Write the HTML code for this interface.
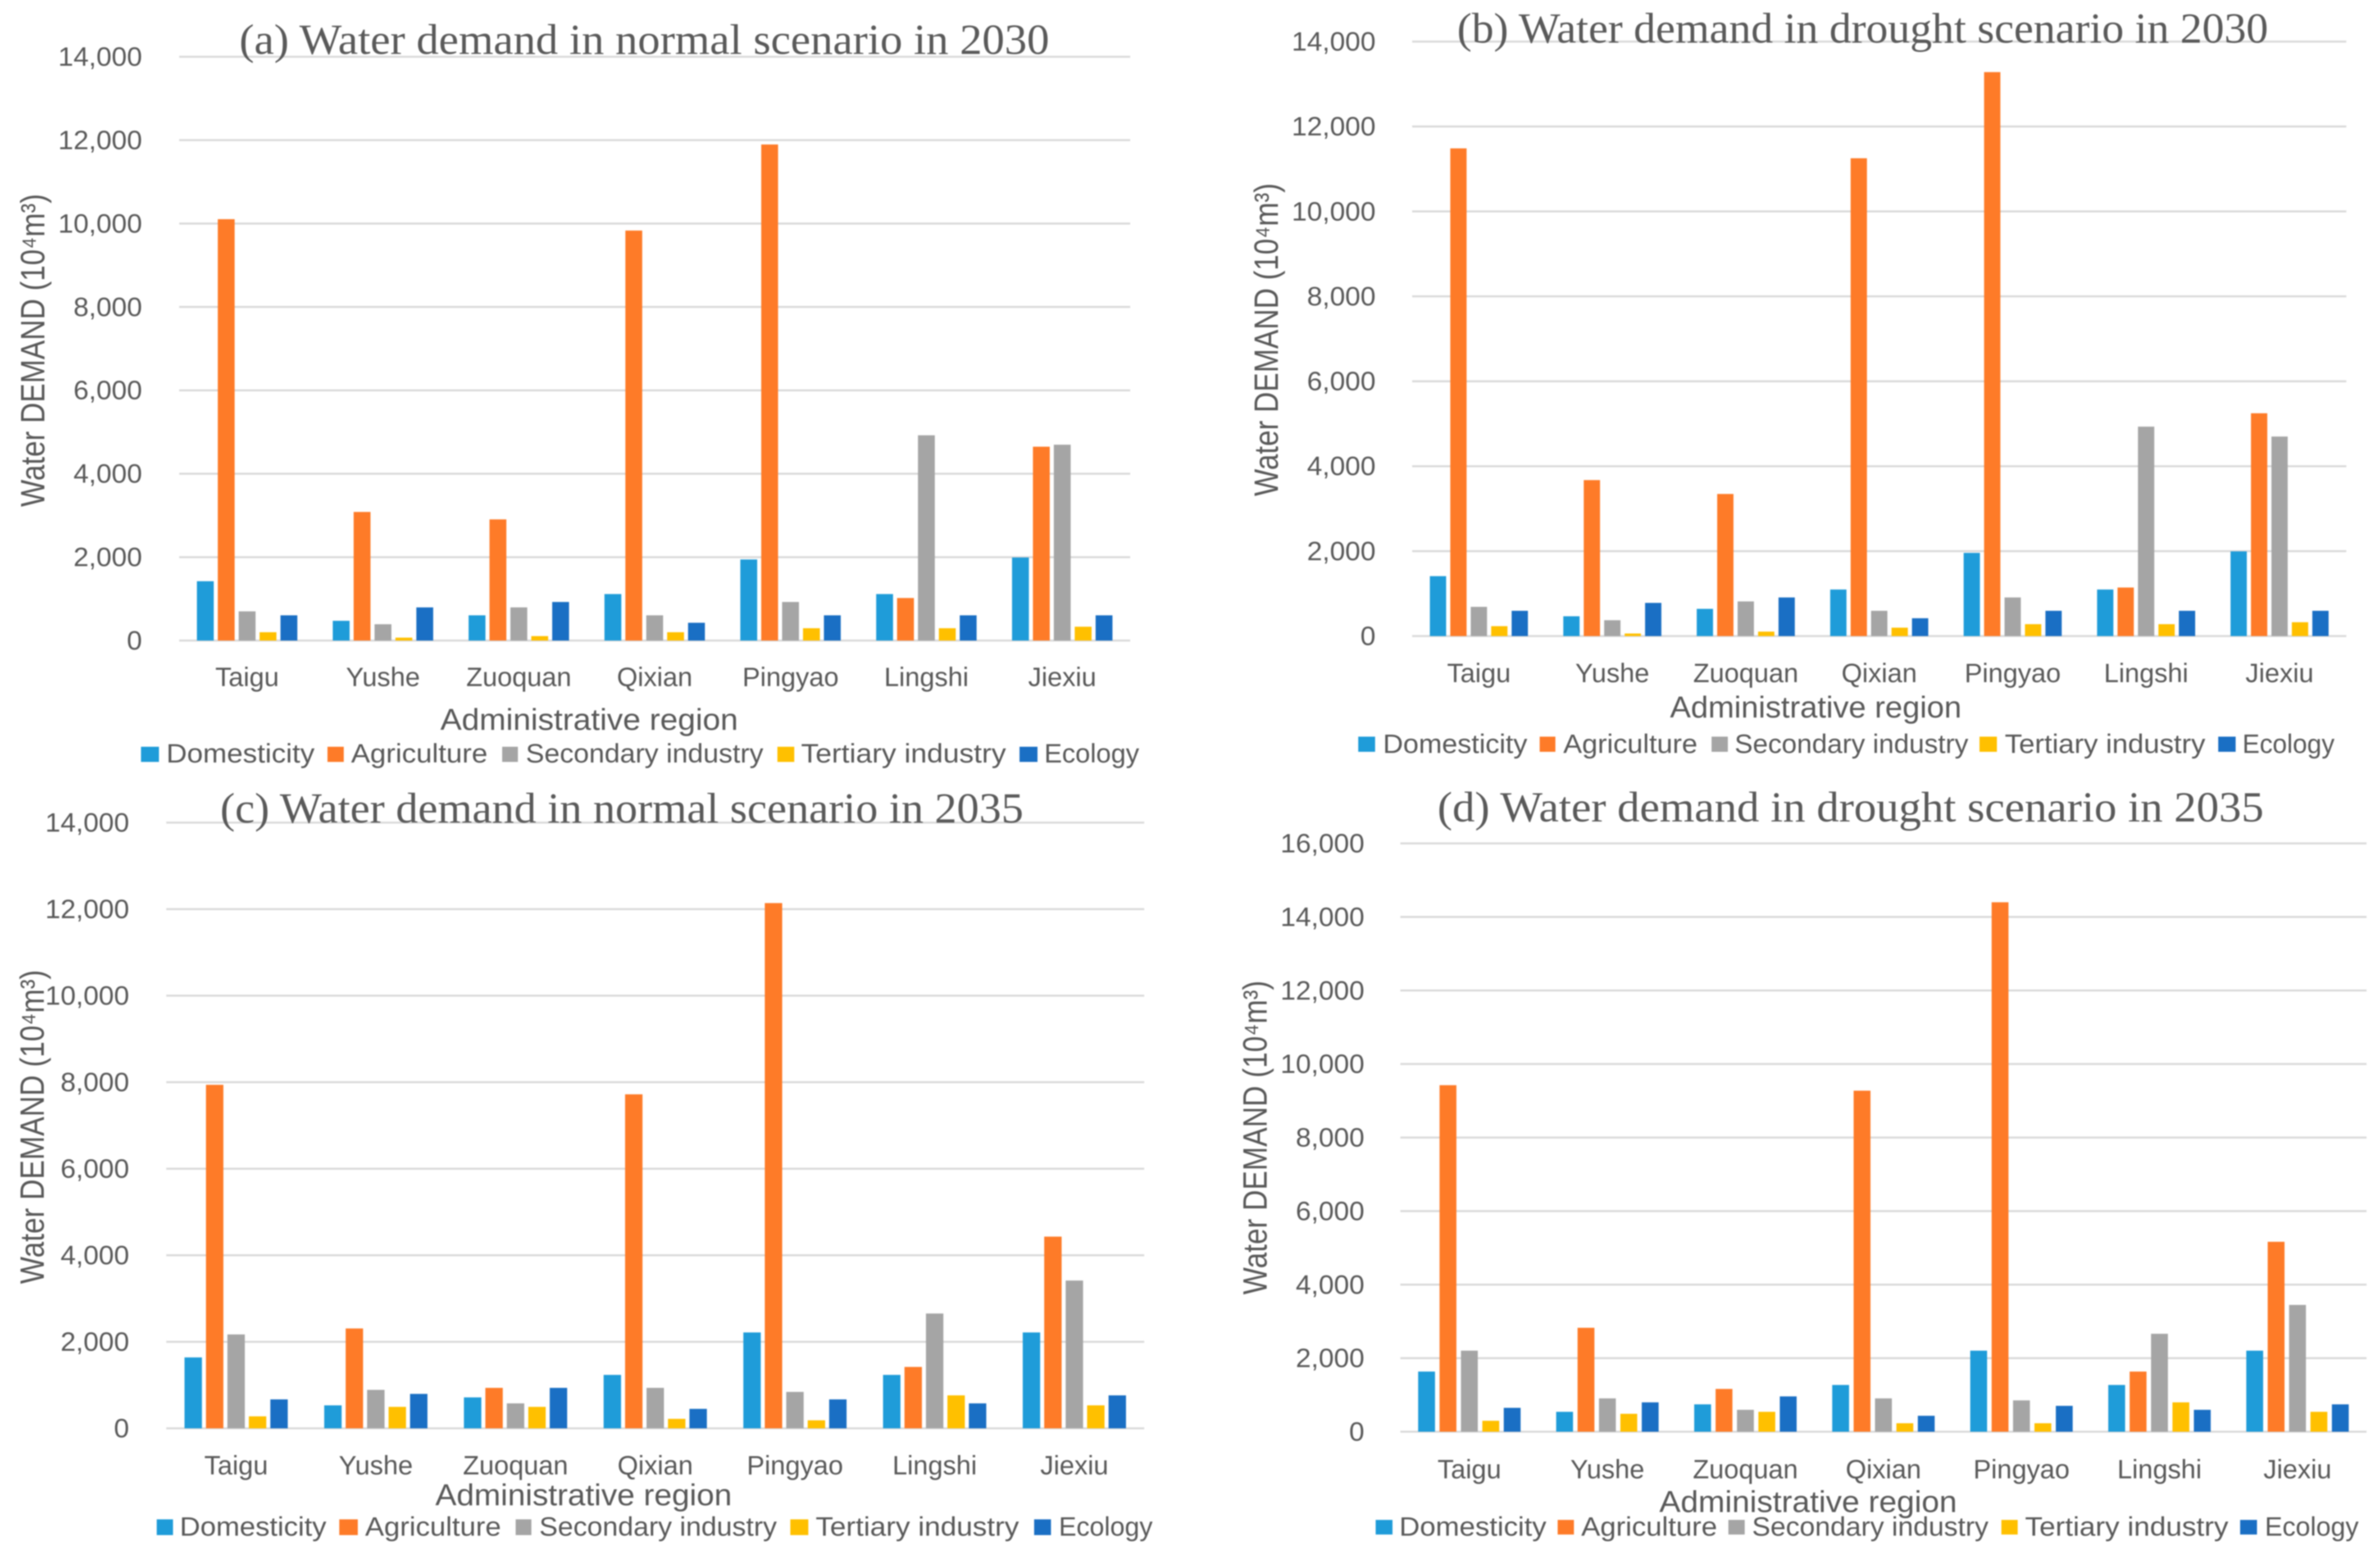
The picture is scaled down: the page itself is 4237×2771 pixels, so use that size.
<!DOCTYPE html>
<html lang="en">
<head>
<meta charset="utf-8">
<title>Water demand scenarios</title>
<style>
html,body{margin:0;padding:0;background:#fff;}
svg{display:block;filter:blur(1px);}
text{font-family:"Liberation Sans",sans-serif;fill:#595959;}
.title{font-family:"Liberation Serif",serif;font-size:76px;fill:#5a5a5a;}
.axis-title{font-size:54px;}
.y-title{font-size:60px;}
.legend{font-size:47px;}
</style>
</head>
<body>
<svg id="chart" xmlns="http://www.w3.org/2000/svg" width="4237" height="2771" viewBox="0 0 4237 2771">
<rect width="4237" height="2771" fill="#fff"/>

<g id="panel-a">
  <g class="marks"></g>
  <text class="title" x="426" y="96" textLength="1442" lengthAdjust="spacingAndGlyphs">(a) Water demand in normal scenario in 2030</text>
  <text class="y-title" transform="rotate(-90 79 902)" x="79" y="902" textLength="557" lengthAdjust="spacingAndGlyphs">Water DEMAND (10⁴m³)</text>
  <text class="axis-title" x="784" y="1299" textLength="530" lengthAdjust="spacingAndGlyphs">Administrative region</text>
  <g>
    <rect x="251" y="1329" width="32" height="27" fill="#1f9cd9"/>
    <text class="legend" x="296" y="1357" textLength="264" lengthAdjust="spacingAndGlyphs">Domesticity</text>
    <rect x="583" y="1329" width="29" height="27" fill="#fe7b28"/>
    <text class="legend" x="625" y="1357" textLength="243" lengthAdjust="spacingAndGlyphs">Agriculture</text>
    <rect x="894" y="1329" width="28" height="27" fill="#a5a5a5"/>
    <text class="legend" x="936" y="1357" textLength="423" lengthAdjust="spacingAndGlyphs">Secondary industry</text>
    <rect x="1384" y="1329" width="30" height="27" fill="#ffc000"/>
    <text class="legend" x="1426" y="1357" textLength="365" lengthAdjust="spacingAndGlyphs">Tertiary industry</text>
    <rect x="1815" y="1329" width="32" height="27" fill="#1a6fc4"/>
    <text class="legend" x="1859" y="1357" textLength="169" lengthAdjust="spacingAndGlyphs">Ecology</text>
  </g>
</g>

<g id="panel-b">
  <g class="marks"></g>
  <text class="title" x="2594" y="76" textLength="1444" lengthAdjust="spacingAndGlyphs">(b) Water demand in drought scenario in 2030</text>
  <text class="y-title" transform="rotate(-90 2275 883)" x="2275" y="883" textLength="557" lengthAdjust="spacingAndGlyphs">Water DEMAND (10⁴m³)</text>
  <text class="axis-title" x="2973" y="1277" textLength="519" lengthAdjust="spacingAndGlyphs">Administrative region</text>
  <g>
    <rect x="2418" y="1311" width="30" height="27" fill="#1f9cd9"/>
    <text class="legend" x="2462" y="1340" textLength="257" lengthAdjust="spacingAndGlyphs">Domesticity</text>
    <rect x="2741" y="1311" width="28" height="27" fill="#fe7b28"/>
    <text class="legend" x="2783" y="1340" textLength="239" lengthAdjust="spacingAndGlyphs">Agriculture</text>
    <rect x="3047" y="1311" width="29" height="27" fill="#a5a5a5"/>
    <text class="legend" x="3088" y="1340" textLength="416" lengthAdjust="spacingAndGlyphs">Secondary industry</text>
    <rect x="3524" y="1311" width="31" height="27" fill="#ffc000"/>
    <text class="legend" x="3569" y="1340" textLength="357" lengthAdjust="spacingAndGlyphs">Tertiary industry</text>
    <rect x="3949" y="1311" width="31" height="27" fill="#1a6fc4"/>
    <text class="legend" x="3992" y="1340" textLength="164" lengthAdjust="spacingAndGlyphs">Ecology</text>
  </g>
</g>

<g id="panel-c">
  <g class="marks"></g>
  <text class="title" x="392" y="1464" textLength="1430" lengthAdjust="spacingAndGlyphs">(c) Water demand in normal scenario in 2035</text>
  <text class="y-title" transform="rotate(-90 78 2285)" x="78" y="2285" textLength="559" lengthAdjust="spacingAndGlyphs">Water DEMAND (10⁴m³)</text>
  <text class="axis-title" x="775" y="2679" textLength="528" lengthAdjust="spacingAndGlyphs">Administrative region</text>
  <g>
    <rect x="279" y="2704" width="29" height="28" fill="#1f9cd9"/>
    <text class="legend" x="320" y="2733" textLength="261" lengthAdjust="spacingAndGlyphs">Domesticity</text>
    <rect x="604" y="2704" width="33" height="28" fill="#fe7b28"/>
    <text class="legend" x="650" y="2733" textLength="242" lengthAdjust="spacingAndGlyphs">Agriculture</text>
    <rect x="918" y="2704" width="28" height="28" fill="#a5a5a5"/>
    <text class="legend" x="960" y="2733" textLength="423" lengthAdjust="spacingAndGlyphs">Secondary industry</text>
    <rect x="1407" y="2704" width="32" height="28" fill="#ffc000"/>
    <text class="legend" x="1452" y="2733" textLength="362" lengthAdjust="spacingAndGlyphs">Tertiary industry</text>
    <rect x="1841" y="2704" width="30" height="28" fill="#1a6fc4"/>
    <text class="legend" x="1885" y="2733" textLength="167" lengthAdjust="spacingAndGlyphs">Ecology</text>
  </g>
</g>

<g id="panel-d">
  <g class="marks"></g>
  <text class="title" x="2559" y="1462" textLength="1471" lengthAdjust="spacingAndGlyphs">(d) Water demand in drought scenario in 2035</text>
  <text class="y-title" transform="rotate(-90 2255 2304)" x="2255" y="2304" textLength="559" lengthAdjust="spacingAndGlyphs">Water DEMAND (10⁴m³)</text>
  <text class="axis-title" x="2954" y="2691" textLength="530" lengthAdjust="spacingAndGlyphs">Administrative region</text>
  <g>
    <rect x="2449" y="2705" width="30" height="26" fill="#1f9cd9"/>
    <text class="legend" x="2491" y="2733" textLength="262" lengthAdjust="spacingAndGlyphs">Domesticity</text>
    <rect x="2773" y="2705" width="29" height="26" fill="#fe7b28"/>
    <text class="legend" x="2815" y="2733" textLength="242" lengthAdjust="spacingAndGlyphs">Agriculture</text>
    <rect x="3077" y="2705" width="29" height="26" fill="#a5a5a5"/>
    <text class="legend" x="3119" y="2733" textLength="421" lengthAdjust="spacingAndGlyphs">Secondary industry</text>
    <rect x="3563" y="2705" width="29" height="26" fill="#ffc000"/>
    <text class="legend" x="3605" y="2733" textLength="362" lengthAdjust="spacingAndGlyphs">Tertiary industry</text>
    <rect x="3988" y="2705" width="30" height="26" fill="#1a6fc4"/>
    <text class="legend" x="4032" y="2733" textLength="167" lengthAdjust="spacingAndGlyphs">Ecology</text>
  </g>
</g>
</svg>

<script>
const categories = ['Taigu','Yushe','Zuoquan','Qixian','Pingyao','Lingshi','Jiexiu'];
const seriesNames = ['domesticity','agriculture','secondary-industry','tertiary-industry','ecology'];
const ticks14k = [0,2000,4000,6000,8000,10000,12000,14000];
const ticks16k = [0,2000,4000,6000,8000,10000,12000,14000,16000];

const aDomesticity = [1423,474,605,1115,1945,1115,1992];
const aAgriculture = [10105,3084,2906,9832,11896,1020,4649];
const aSecondary = [700,391,795,605,925,4922,4697];
const aTertiary = [200,70,107,200,296,296,332];
const aEcology = [605,795,925,427,605,605,605];

const bDomesticity = [1411,466,641,1096,1959,1096,1994];
const bAgriculture = [11485,3673,3346,11252,13281,1143,5247];
const bSecondary = [688,373,816,595,909,4932,4699];
const bTertiary = [233,60,105,198,280,280,326];
const bEcology = [595,781,909,420,595,595,595];

const cDomesticity = [1639,531,715,1235,2216,1235,2216];
const cAgriculture = [7940,2308,935,7720,12140,1419,4431];
const cSecondary = [2170,889,577,935,842,2654,3416];
const cTertiary = [277,496,496,219,185,762,531];
const cEcology = [669,796,935,450,669,577,762];

const dDomesticity = [1636,541,744,1271,2204,1271,2204];
const dAgriculture = [9424,2826,1163,9275,14399,1636,5165];
const dSecondary = [2204,906,595,906,852,2663,3448];
const dTertiary = [297,487,541,230,230,798,541];
const dEcology = [649,798,960,433,703,595,744];

const seriesColors = ['#1f9cd9','#fe7b28','#a5a5a5','#ffc000','#1a6fc4'];
const NS = 'http://www.w3.org/2000/svg';

function drawPanel(id, layout, ticks, series) {
  const root = document.querySelector('#' + id + ' .marks');
  const maxV = ticks[ticks.length - 1];
  const yScale = function (v) { return layout.bottom - (v / maxV) * (layout.bottom - layout.top); };
  const band = (layout.right - layout.left) / categories.length;
  const xBand = function (i) { return layout.left + band * (i + 0.5); };

  ticks.forEach(function (t) {
    const y = yScale(t);
    const line = document.createElementNS(NS, 'line');
    line.setAttribute('x1', layout.left);
    line.setAttribute('x2', layout.right);
    line.setAttribute('y1', y);
    line.setAttribute('y2', y);
    line.setAttribute('stroke', '#d9d9d9');
    line.setAttribute('stroke-width', '3.5');
    
    
    root.appendChild(line);

    const label = document.createElementNS(NS, 'text');
    label.setAttribute('transform', 'translate(' + layout.tickRight + ',' + (y + 16) + ') scale(1.04,1)');
    label.setAttribute('text-anchor', 'end');
    label.setAttribute('font-size', '47');
    label.textContent = t.toLocaleString('en-US');
    
    
    root.appendChild(label);
  });

  const span = layout.pitch * (series.length - 1) + layout.barWidth;
  series.forEach(function (values, s) {
    values.forEach(function (v, i) {
      const x = xBand(i) - span / 2 + s * layout.pitch;
      const y = yScale(v);
      const bar = document.createElementNS(NS, 'rect');
      bar.setAttribute('x', x);
      bar.setAttribute('y', y);
      bar.setAttribute('width', layout.barWidth);
      bar.setAttribute('height', yScale(0) - y);
      bar.setAttribute('fill', seriesColors[s]);
      
      
      root.appendChild(bar);
    });
  });

  categories.forEach(function (c, i) {
    const label = document.createElementNS(NS, 'text');
    label.setAttribute('transform', 'translate(' + xBand(i) + ',' + layout.catBaseline + ') scale(1.01,1)');
    label.setAttribute('text-anchor', 'middle');
    label.setAttribute('font-size', '47');
    label.textContent = c;
    
    
    root.appendChild(label);
  });
}

drawPanel('panel-a', {left:319,right:2012,top:101,bottom:1140,tickRight:253,catBaseline:1221,pitch:37.2,barWidth:30}, ticks14k,
  [aDomesticity,aAgriculture,aSecondary,aTertiary,aEcology]);
drawPanel('panel-b', {left:2514,right:4177,top:74,bottom:1132,tickRight:2449,catBaseline:1214,pitch:36.4,barWidth:29}, ticks14k,
  [bDomesticity,bAgriculture,bSecondary,bTertiary,bEcology]);
drawPanel('panel-c', {left:296,right:2037,top:1464,bottom:2542,tickRight:230,catBaseline:2624,pitch:38.2,barWidth:31}, ticks14k,
  [cDomesticity,cAgriculture,cSecondary,cTertiary,cEcology]);
drawPanel('panel-d', {left:2493,right:4213,top:1501,bottom:2548,tickRight:2429,catBaseline:2631,pitch:38.1,barWidth:30}, ticks16k,
  [dDomesticity,dAgriculture,dSecondary,dTertiary,dEcology]);
</script>
</body>
</html>
